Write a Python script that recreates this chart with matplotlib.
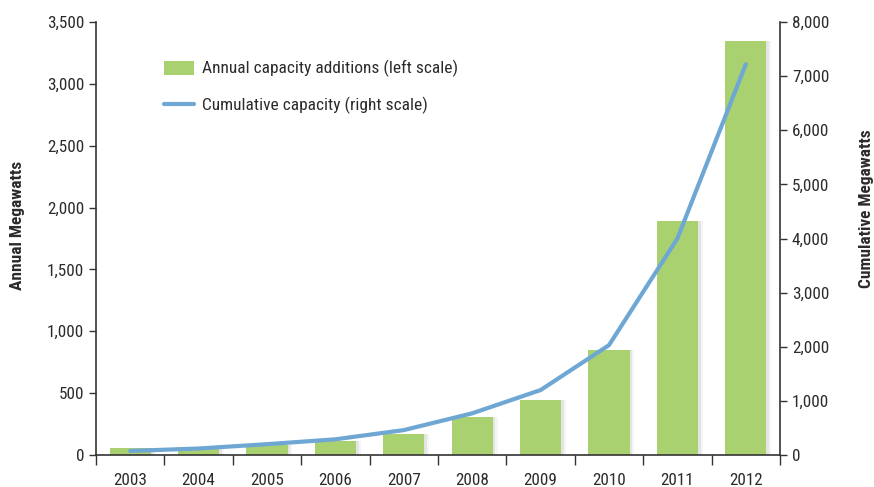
import matplotlib
matplotlib.use("Agg")
import matplotlib.pyplot as plt
from matplotlib.ticker import FuncFormatter, FixedLocator
from matplotlib import font_manager
import numpy as np

years = ["2003", "2004", "2005", "2006", "2007", "2008", "2009", "2010", "2011", "2012"]
annual_mw = [57, 65, 81, 113, 170, 307, 445, 849, 1892, 3347]
cumulative_mw = [75, 120, 200, 290, 460, 770, 1200, 2030, 4000, 7220]

avail = {f.name for f in font_manager.fontManager.ttflist}
fams = [f for f in ['Roboto Condensed', 'Liberation Sans Narrow', 'Roboto'] if f in avail] + ['DejaVu Sans']
plt.rcParams['font.family'] = fams
text_color = '#2b2b2b'
green = '#a9d170'
blue = '#6fa7d4'

fig = plt.figure(figsize=(8.74, 4.87), dpi=100)
ax = fig.add_axes([96/874, 1-455/487, (780-96)/874, (455-22)/487])
ax2 = ax.twinx()

x = np.arange(len(years))
ax.set_xlim(-0.5, len(years) - 0.5)

# soft shadow
for dx, a in [(0.04, 0.10), (0.07, 0.06)]:
    ax.bar(x + dx, annual_mw, width=0.6, color='#555555', alpha=a, zorder=1, linewidth=0)
bars = ax.bar(x, annual_mw, width=0.6, color=green, zorder=2, linewidth=0,
              label='Annual capacity additions (left scale)')
ax.set_ylim(0, 3500)
ax.set_yticks(np.arange(0, 3501, 500))
ax.yaxis.set_major_formatter(FuncFormatter(lambda v, p: f"{int(v):,}"))

ax2.set_ylim(0, 8000)
ax2.set_yticks(np.arange(0, 8001, 1000))
ax2.yaxis.set_major_formatter(FuncFormatter(lambda v, p: f"{int(v):,}"))
line, = ax2.plot(x, cumulative_mw, color=blue, linewidth=3, solid_capstyle='round',
                 label='Cumulative capacity (right scale)', zorder=3)

ax.set_xticks(x)
ax.set_xticklabels(years)
ax.xaxis.set_minor_locator(FixedLocator(np.arange(-0.5, len(years), 1.0)))
ax.tick_params(axis='x', which='major', length=0, pad=13, labelsize=12.3, colors=text_color)
ax.tick_params(axis='x', which='minor', length=7, width=1, direction='out', color='#333333')
ax.tick_params(axis='y', length=5, width=1, direction='out', labelsize=12.3, colors=text_color, color='#333333')
ax2.tick_params(axis='y', length=5, width=1, direction='out', labelsize=12.3, colors=text_color, color='#333333')

for a in (ax, ax2):
    a.spines['top'].set_visible(False)
    for s in ('left', 'right', 'bottom'):
        a.spines[s].set_color('#333333')
        a.spines[s].set_linewidth(1.2)
ax.spines['right'].set_visible(False)
ax2.spines['left'].set_visible(False)
ax2.spines['bottom'].set_visible(False)

ax.set_ylabel('Annual Megawatts', fontsize=12.5, fontweight='bold', color=text_color,
              va='center')
ax.yaxis.set_label_coords((18 - 96) / 684, (455 - 225) / 433)
ax2.set_ylabel('Cumulative Megawatts', fontsize=12.5, fontweight='bold', color=text_color,
               rotation=90, va='center')
ax2.yaxis.set_label_coords((866 - 96) / 684, (455 - 209) / 433)

ax.set_zorder(ax2.get_zorder() - 1)
ax2.patch.set_visible(False)
ax.patch.set_visible(True)

leg = ax2.legend(handles=[bars, line], loc='upper left', bbox_to_anchor=(0.077, 0.948),
                 frameon=False, fontsize=12.5, handlelength=1.7, handleheight=0.86,
                 labelspacing=1.12, handletextpad=0.45)
for t in leg.get_texts():
    t.set_color(text_color)

fig.savefig('out.png', dpi=100)
